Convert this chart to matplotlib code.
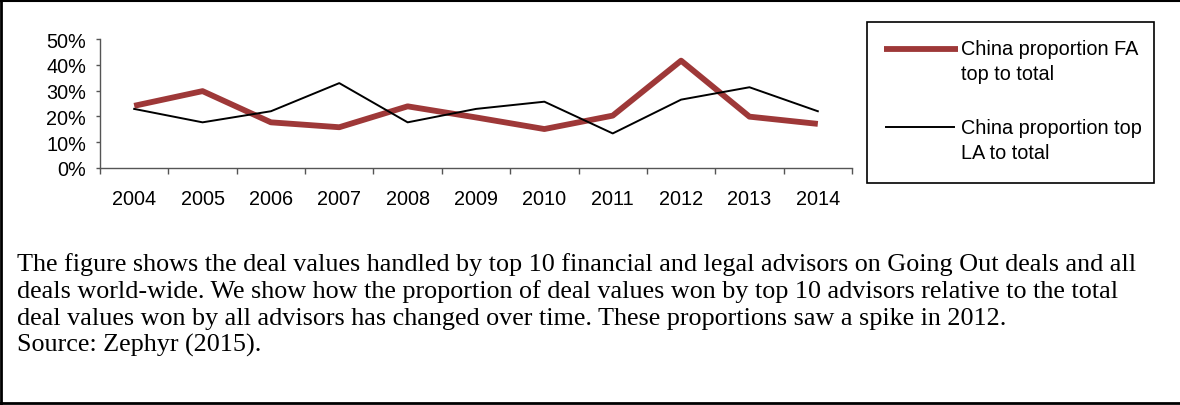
import matplotlib
matplotlib.use("Agg")
import matplotlib.pyplot as plt
from matplotlib.lines import Line2D
from matplotlib.ticker import PercentFormatter, FixedLocator

years = ["2004", "2005", "2006", "2007", "2008", "2009", "2010", "2011", "2012", "2013", "2014"]
fa_top = [24.1, 29.8, 17.7, 15.8, 23.9, 19.6, 15.1, 20.3, 41.6, 19.9, 17.1]
la_top = [22.9, 17.7, 22.0, 32.9, 17.7, 22.9, 25.7, 13.4, 26.5, 31.3, 22.0]
legend_lines = [["China proportion FA", "top to total"], ["China proportion top", "LA to total"]]
caption_lines = [
    "The figure shows the deal values handled by top 10 financial and legal advisors on Going Out deals and all",
    "deals world-wide. We show how the proportion of deal values won by top 10 advisors relative to the total",
    "deal values won by all advisors has changed over time. These proportions saw a spike in 2012.",
    "Source: Zephyr (2015).",
]

W, H = 1180, 406
fig = plt.figure(figsize=(W / 100, H / 100), dpi=100)
sans = ["Liberation Sans", "DejaVu Sans"]
serif = ["Liberation Serif", "DejaVu Serif"]
RED = "#9e3838"
FS = 14.3

# axes: x from 100 to 852 px, y from 40 (50%) to 169 (0%)
ax = fig.add_axes([100 / W, 1 - 169 / H, 752 / W, 129 / H])
x = list(range(len(years)))
ax.plot(x, fa_top, color=RED, lw=4.2, solid_capstyle="butt", zorder=3)
ax.plot(x, la_top, color="black", lw=1.4, zorder=4)
ax.set_xlim(-0.5, len(years) - 0.5)
ax.set_ylim(0, 50)
ax.set_yticks([0, 10, 20, 30, 40, 50])
ax.yaxis.set_major_formatter(PercentFormatter(decimals=0))
ax.set_xticks(x)
ax.set_xticklabels(years)
ax.xaxis.set_minor_locator(FixedLocator([i - 0.5 for i in range(len(years) + 1)]))
ax.tick_params(axis="x", which="major", length=0, pad=15)
ax.tick_params(axis="x", which="minor", length=4, direction="out", color="#555555", width=1)
ax.tick_params(axis="y", length=3, direction="out", color="#555555", width=1, pad=7)
for lab in ax.get_xticklabels() + ax.get_yticklabels():
    lab.set_fontfamily(sans)
    lab.set_fontsize(FS)
for s in ["top", "right"]:
    ax.spines[s].set_visible(False)
for s in ["left", "bottom"]:
    ax.spines[s].set_color("#555555")
    ax.spines[s].set_linewidth(1)

# legend box
lx0, ly0, lx1, ly1 = 867, 23, 1154, 184
fig.patches.append(plt.Rectangle((lx0 / W, 1 - ly1 / H), (lx1 - lx0) / W, (ly1 - ly0) / H,
                                 transform=fig.transFigure, fill=False, ec="black", lw=1.2))
fig.lines.append(Line2D([884 / W, 958 / W], [1 - 49.5 / H, 1 - 49.5 / H], transform=fig.transFigure,
                        color=RED, lw=4.2, solid_capstyle="butt"))
fig.lines.append(Line2D([886 / W, 954 / W], [1 - 128 / H, 1 - 128 / H], transform=fig.transFigure,
                        color="black", lw=1.4))
for (l1, l2), yc in zip(legend_lines, [49.5, 128]):
    fig.text(961 / W, 1 - yc / H, l1, family=sans, fontsize=FS, va="center")
    fig.text(961 / W, 1 - (yc + 25.5) / H, l2, family=sans, fontsize=FS, va="center")

# caption
for line, yb in zip(caption_lines, [271, 298, 324.5, 352]):
    fig.text(17 / W, 1 - yb / H, line, family=serif, fontsize=18.8, va="baseline", ha="left")

# outer border (left, top, bottom)
fig.lines.append(Line2D([1 / W, 1 / W], [0, 1], transform=fig.transFigure, color="black", lw=2))
fig.lines.append(Line2D([0, 1], [1 - 1.5 / H, 1 - 1.5 / H], transform=fig.transFigure, color="black", lw=1.5))
fig.lines.append(Line2D([0, 1], [1 - 404 / H, 1 - 404 / H], transform=fig.transFigure, color="black", lw=2))

fig.savefig("out.png", dpi=100)
